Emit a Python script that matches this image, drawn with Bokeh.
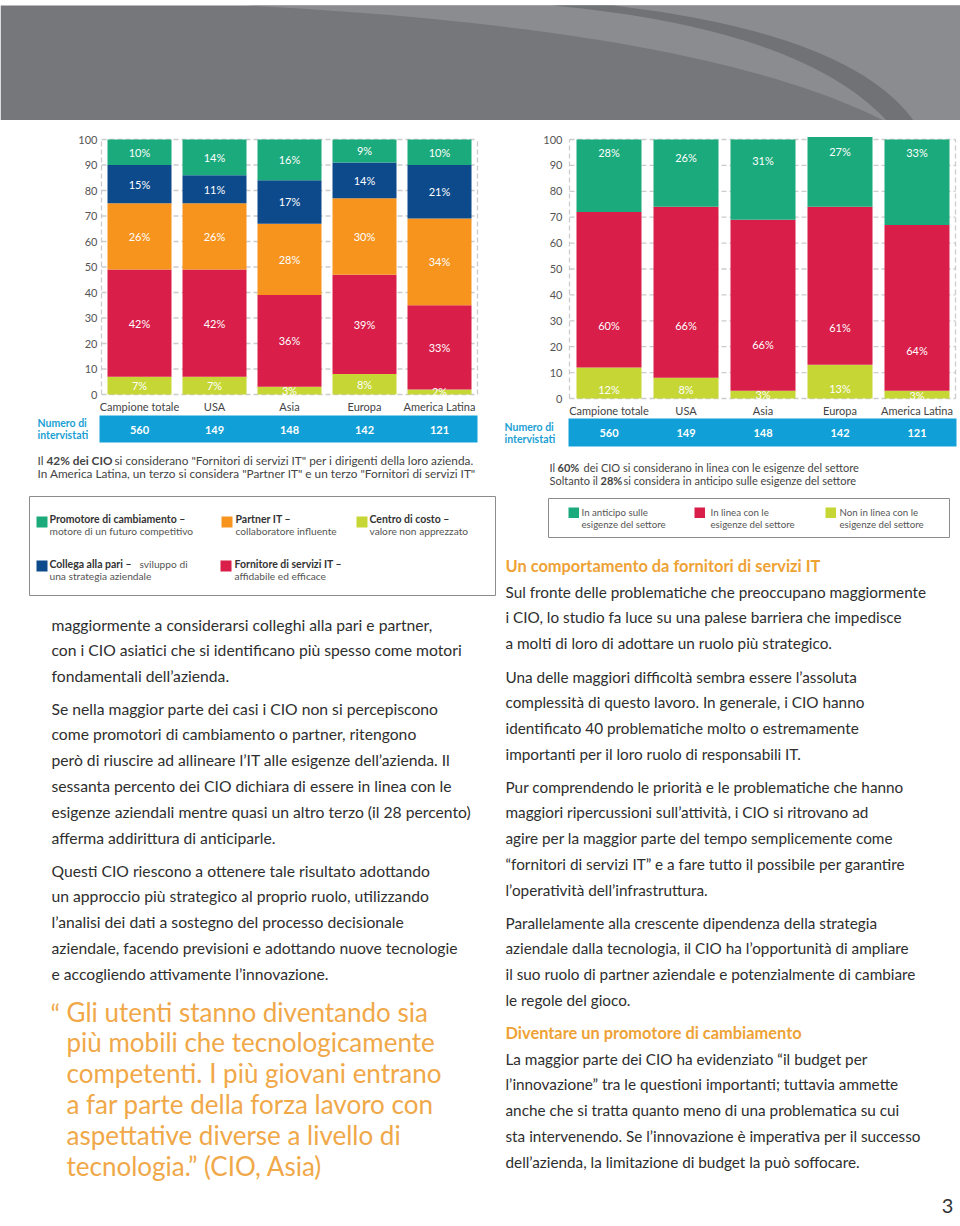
import numpy as np
from bokeh.plotting import figure
from bokeh.models import Range1d, ColumnDataSource
from bokeh.layouts import column, row
from bokeh.embed import file_html
from bokeh.resources import INLINE
from bokeh.core.properties import value

# ---------------- data ----------------
regions = ["Campione totale", "USA", "Asia", "Europa", "America Latina"]
respondents = [560, 149, 148, 142, 121]
y_ticks = [0, 10, 20, 30, 40, 50, 60, 70, 80, 90, 100]

# left chart: stacked bottom -> top
centro_di_costo = [7, 7, 3, 8, 2]
fornitore_servizi = [42, 42, 36, 39, 33]
partner_it = [26, 26, 28, 30, 34]
collega_pari = [15, 11, 17, 14, 21]
promotore = [10, 14, 16, 9, 10]

# right chart: stacked bottom -> top
non_in_linea = [12, 8, 3, 13, 3]
in_linea = [60, 66, 66, 61, 64]
in_anticipo = [28, 26, 31, 27, 33]

GREEN = "#1aaa7b"
NAVY = "#0c4a8c"
ORANGE = "#f7941e"
CRIMSON = "#d81e49"
LIME = "#c5d635"
BAND = "#109fd6"
LBLUE = "#1b9fd4"
TXT = "#2e2e2e"
GREY = "#555555"
QUOTE = "#f0a848"
HEAD = "#eea235"
FONT = value("Lato")


def txt(p, x, y, s, size, color=TXT, bold=False, align="left", baseline="middle"):
    p.text(x=[x], y=[y], text=[s], text_color=color, text_font=FONT,
           text_font_size=size, text_font_style="bold" if bold else "normal",
           text_align=align, text_baseline=baseline)


def build_chart(series, colors, label_centers, px_left, px_right, c0, sp, barw, y0, ppu,
                grid_l, grid_r, tick_x, cat_y, band_l, band_r, band_t, band_b, num_y,
                lab_x, lab_y1, lab_y2, caption):
    X = lambda px: (px - c0) / sp
    Y = lambda py: (y0 - py) / ppu
    p = figure(width=px_right - px_left, height=375,
               x_range=Range1d(X(px_left), X(px_right)), y_range=Range1d(Y(495), Y(120)),
               x_axis_type=None, y_axis_type=None, toolbar_location=None,
               output_backend="svg", min_border=0, outline_line_color=None)
    # dashed grid
    p.segment(x0=[X(grid_l)] * len(y_ticks), x1=[X(grid_r)] * len(y_ticks),
              y0=y_ticks, y1=y_ticks, line_color="#cccccc", line_width=1.3, line_dash="5 3")
    p.segment(x0=[X(grid_l), X(grid_r)], x1=[X(grid_l), X(grid_r)], y0=[0, 0], y1=[100, 100],
              line_color="#cccccc", line_width=1.3, line_dash="5 3")
    # bars
    xs = list(range(len(regions)))
    data = {"x": xs}
    names = []
    for k, s in enumerate(series):
        data["s%d" % k] = s
        names.append("s%d" % k)
    src = ColumnDataSource(data)
    p.vbar_stack(names, x="x", width=barw / sp, fill_color=colors, line_color=None, source=src)
    # segment labels
    lx, ly, lt = [], [], []
    for k, s in enumerate(series):
        for i, v in enumerate(s):
            lx.append(i)
            ly.append(label_centers[k][i])
            lt.append("%d%%" % v)
    p.text(x=lx, y=ly, text=lt, text_color="white", text_font=FONT, text_font_size="11px",
           text_align="center", text_baseline="middle")
    # y tick labels
    p.text(x=[X(tick_x)] * len(y_ticks), y=y_ticks, text=[str(t) for t in y_ticks],
           text_color=GREY, text_font=FONT, text_font_size="11px",
           text_align="right", text_baseline="middle")
    # category labels
    p.text(x=xs, y=[Y(cat_y)] * len(xs), text=regions, text_color="#444444", text_font=FONT,
           text_font_size="11px", text_align="center", text_baseline="middle")
    # respondents band
    p.quad(left=[X(band_l)], right=[X(band_r)], top=[Y(band_t)], bottom=[Y(band_b)],
           fill_color=BAND, line_color=None)
    p.text(x=xs, y=[Y(num_y)] * len(xs), text=[str(n) for n in respondents], text_color="white",
           text_font=FONT, text_font_size="11px", text_font_style="bold",
           text_align="center", text_baseline="middle")
    txt(p, X(lab_x), Y(lab_y1), "Numero di", "10.5px", LBLUE, bold=True)
    txt(p, X(lab_x), Y(lab_y2), "intervistati", "10.5px", LBLUE, bold=True)
    for (px, py, s, b, size) in caption:
        txt(p, X(px), Y(py), s, size, "#444444", bold=b)
    return p


# label centres of the left chart (cumulative stack)
left_series = [centro_di_costo, fornitore_servizi, partner_it, collega_pari, promotore]
arr = np.array(left_series, dtype=float)
bottoms = np.vstack([np.zeros(arr.shape[1]), np.cumsum(arr, axis=0)[:-1]])
left_centers = (bottoms + arr / 2).tolist()

left = build_chart(
    left_series, [LIME, CRIMSON, ORANGE, NAVY, GREEN], left_centers,
    0, 495, 139, 75, 64, 394, 2.55,
    101, 477, 97, 406, 99, 477, 415, 442, 429, 37, 422, 434,
    [(37, 460, "Il", False, "11.8px"),
     (46, 460, "42% dei CIO", True, "11.8px"),
     (114, 460, "si considerano \"Fornitori di servizi IT\" per i dirigenti della loro azienda.", False, "11.8px"),
     (37, 473, "In America Latina, un terzo si considera \"Partner IT\" e un terzo \"Fornitori di servizi IT\"", False, "11.8px")])

right_series = [non_in_linea, in_linea, in_anticipo]
# the source positions these labels like the matching left-chart labels
right_centers = [left_centers[0], left_centers[1], left_centers[4]]
right = build_chart(
    right_series, [LIME, CRIMSON, GREEN], right_centers,
    495, 960, 608.5, 77, 65, 398, 2.59,
    569, 955, 562, 410, 568, 956, 418, 446, 432, 504, 426, 438,
    [(549, 467, "Il", False, "11px"),
     (557, 467, "60%", True, "11px"),
     (583, 467, "dei CIO si considerano in linea con le esigenze del settore", False, "11px"),
     (549, 480, "Soltanto il", False, "11px"),
     (600, 480, "28%", True, "11px"),
     (623, 480, "si considera in anticipo sulle esigenze del settore", False, "11px")])

# ---------------- top band ----------------
band = figure(width=960, height=120, x_range=Range1d(0, 960), y_range=Range1d(120, 0),
              x_axis_type=None, y_axis_type=None, toolbar_location=None,
              output_backend="svg", min_border=0, outline_line_color=None)


def qbez(p0, p1, p2, n=50):
    t = np.linspace(0, 1, n)
    x = (1 - t) ** 2 * p0[0] + 2 * (1 - t) * t * p1[0] + t ** 2 * p2[0]
    y = (1 - t) ** 2 * p0[1] + 2 * (1 - t) * t * p1[1] + t ** 2 * p2[1]
    return list(x), list(y)


band.quad(left=[0], right=[960], top=[5], bottom=[120], fill_color="#76777b", line_color=None)
cx, cy = qbez((245, 5), (700, 28), (883, 120))
band.patch(cx + [960, 960], cy + [120, 5], fill_color="#8b8c8f", line_color=None)
ax, ay = qbez((552, 5), (800, 28), (886, 120))
bx, by = qbez((613, 5), (850, 33), (913, 120))
band.patch(ax + bx[::-1], ay + by[::-1], fill_color="#717276", line_color=None)

# ---------------- lower page ----------------
LOW_BOTTOM = 1223
low = figure(width=960, height=LOW_BOTTOM - 495, x_range=Range1d(0, 960),
             y_range=Range1d(LOW_BOTTOM, 495),
             x_axis_type=None, y_axis_type=None, toolbar_location=None,
             output_backend="svg", min_border=0, outline_line_color=None)

# legend boxes
low.quad(left=[29, 548], right=[495, 949], top=[496, 498], bottom=[595, 537],
         fill_color=None, line_color="#8c8c8c", line_width=1)

legend_left = [
    (36, 516, GREEN, 49, 518, "Promotore di cambiamento –", "motore di un futuro competitivo", None),
    (221, 516, ORANGE, 235, 518, "Partner IT –", "collaboratore influente", None),
    (356, 516, LIME, 369, 518, "Centro di costo –", "valore non apprezzato", None),
    (36, 560, NAVY, 49, 563, "Collega alla pari –", "una strategia aziendale", (139, "sviluppo di")),
    (220, 560, CRIMSON, 234, 563, "Fornitore di servizi IT –", "affidabile ed efficace", None),
]
for sx, sy, col, tx, ty, b, r, extra in legend_left:
    low.quad(left=[sx], right=[sx + 11], top=[sy], bottom=[sy + 11], fill_color=col, line_color=None)
    txt(low, tx, ty, b, "10.5px", "#333333", bold=True)
    txt(low, tx, ty + 12.5, r, "10.2px", "#555555")
    if extra:
        txt(low, extra[0], ty, extra[1], "10.2px", "#555555")

legend_right = [
    (568, GREEN, 581, "In anticipo sulle"),
    (694, CRIMSON, 710, "In linea con le"),
    (825, LIME, 839, "Non in linea con le"),
]
for sx, col, tx, s in legend_right:
    low.quad(left=[sx], right=[sx + 10.5], top=[507], bottom=[517.5], fill_color=col, line_color=None)
    txt(low, tx, 511, s, "9.7px", "#555555")
    txt(low, tx, 523, "esigenze del settore", "9.7px", "#555555")

LH = 25.8
left_paras = [
    (624, ["maggiormente a considerarsi colleghi alla pari e partner,",
           "con i CIO asiatici che si identificano più spesso come motori",
           "fondamentali dell’azienda."]),
    (708, ["Se nella maggior parte dei casi i CIO non si percepiscono",
           "come promotori di cambiamento o partner, ritengono",
           "però di riuscire ad allineare l’IT alle esigenze dell’azienda. Il",
           "sessanta percento dei CIO dichiara di essere in linea con le",
           "esigenze aziendali mentre quasi un altro terzo (il 28 percento)",
           "afferma addirittura di anticiparle."]),
    (870, ["Questi CIO riescono a ottenere tale risultato adottando",
           "un approccio più strategico al proprio ruolo, utilizzando",
           "l’analisi dei dati a sostegno del processo decisionale",
           "aziendale, facendo previsioni e adottando nuove tecnologie",
           "e accogliendo attivamente l’innovazione."]),
]
for y0, lines in left_paras:
    for k, s in enumerate(lines):
        txt(low, 51, y0 + k * LH, s, "15.7px")

right_paras = [
    (591, ["Sul fronte delle problematiche che preoccupano maggiormente",
           "i CIO, lo studio fa luce su una palese barriera che impedisce",
           "a molti di loro di adottare un ruolo più strategico."]),
    (676, ["Una delle maggiori difficoltà sembra essere l’assoluta",
           "complessità di questo lavoro. In generale, i CIO hanno",
           "identificato 40 problematiche molto o estremamente",
           "importanti per il loro ruolo di responsabili IT."]),
    (786, ["Pur comprendendo le priorità e le problematiche che hanno",
           "maggiori ripercussioni sull’attività, i CIO si ritrovano ad",
           "agire per la maggior parte del tempo semplicemente come",
           "“fornitori di servizi IT” e a fare tutto il possibile per garantire",
           "l’operatività dell’infrastruttura."]),
    (922, ["Parallelamente alla crescente dipendenza della strategia",
           "aziendale dalla tecnologia, il CIO ha l’opportunità di ampliare",
           "il suo ruolo di partner aziendale e potenzialmente di cambiare",
           "le regole del gioco."]),
    (1058, ["La maggior parte dei CIO ha evidenziato “il budget per",
            "l’innovazione” tra le questioni importanti; tuttavia ammette",
            "anche che si tratta quanto meno di una problematica su cui",
            "sta intervenendo. Se l’innovazione è imperativa per il successo",
            "dell’azienda, la limitazione di budget la può soffocare."]),
]
txt(low, 505, 565, "Un comportamento da fornitori di servizi IT", "16.4px", HEAD, bold=True)
txt(low, 505, 1032, "Diventare un promotore di cambiamento", "16.4px", HEAD, bold=True)
for y0, lines in right_paras:
    for k, s in enumerate(lines):
        txt(low, 505, y0 + k * LH, s, "15.3px")

quote_lines = ["Gli utenti stanno diventando sia",
               "più mobili che tecnologicamente",
               "competenti. I più giovani entrano",
               "a far parte della forza lavoro con",
               "aspettative diverse a livello di",
               "tecnologia.” (CIO, Asia)"]
txt(low, 50, 1013, "“", "26px", QUOTE)
for k, s in enumerate(quote_lines):
    txt(low, 66, 1011 + k * 30.8, s, "26px", QUOTE)

txt(low, 947, 1205, "3", "20px", "#333333", align="center")

layout = column(band, row(left, right, spacing=0), low, spacing=0)
open("out.html", "w").write(file_html(layout, INLINE))
